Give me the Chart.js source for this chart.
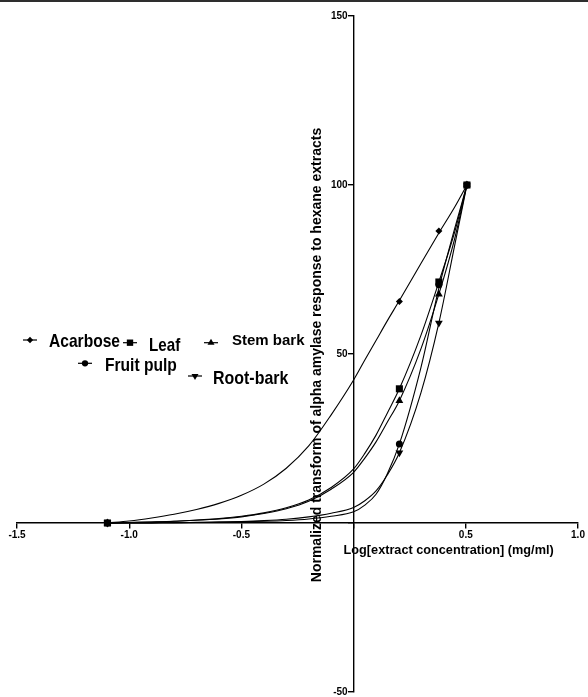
<!DOCTYPE html>
<html>
<head>
    <title>Alpha amylase response to hexane extracts</title>
    <script src="https://cdn.jsdelivr.net/npm/chart.js@4.4.0/dist/chart.umd.min.js"></script>
    <style>
        body { margin: 0; padding: 0; background: #fff; font-family: "Liberation Sans", Arial, sans-serif; }
        .chart-box { width: 588px; height: 697px; position: relative; }
    </style>
</head>
<body>
    <div class="chart-box"><canvas id="amylaseChart"></canvas></div>

    <script>
        // measured points (log concentration vs normalized response)
        const logConc = [-1.097, 0.204, 0.380, 0.505];
        const acarbose = [0, 65.5, 86.4, 100];
        const leaf = [0, 39.7, 71.3, 100];
        const stemBark = [0, 36.2, 67.7, 100];
        const fruitPulp = [0, 23.4, 70.5, 100];
        const rootBark = [0, 20.8, 59.2, 100];

        // fitted curves
        const curveX = [-1.097, -1.0, -0.9, -0.8, -0.7, -0.6, -0.5, -0.4, -0.3, -0.2, -0.1, 0, 0.05, 0.1, 0.15, 0.204, 0.3, 0.38, 0.45, 0.505];
        const acarboseCurve = [0, 0.6, 1.5, 2.6, 4.0, 5.8, 8.2, 11.5, 16.2, 22.8, 32, 42.3, 48.2, 54, 59.8, 65.8, 76.8, 85.8, 93.4, 100];
        const leafCurve = [0, 0.15, 0.3, 0.5, 0.9, 1.3, 2.0, 3.0, 4.5, 6.8, 10.5, 16, 20.6, 26, 32.5, 39.7, 55.5, 71.3, 86, 100];
        const stemBarkCurve = [0, 0.15, 0.3, 0.5, 0.8, 1.2, 1.8, 2.8, 4.2, 6.4, 10, 15, 19.2, 24, 29.8, 36.2, 51.5, 67.7, 84, 100];
        const fruitPulpCurve = [0, 0, 0.05, 0.1, 0.15, 0.25, 0.35, 0.5, 0.75, 1.2, 2.0, 3.3, 5.3, 8.5, 14.5, 23.4, 46, 69.5, 87, 100];
        const rootBarkCurve = [0, 0, 0.05, 0.1, 0.2, 0.3, 0.45, 0.7, 1.1, 1.8, 2.9, 4.6, 6.6, 9.5, 14.2, 20.8, 38.5, 59.2, 82, 100];

        const xTicks = [-1.5, -1.0, -0.5, 0, 0.5, 1.0];
        const yTicks = [-50, 0, 50, 100, 150];

        const series = [
            { label: 'Acarbose', pts: acarbose, curve: acarboseCurve, style: 'rectRot', radius: 3.5, rot: 0 },
            { label: 'Leaf', pts: leaf, curve: leafCurve, style: 'rect', radius: 5, rot: 0 },
            { label: 'Stem bark', pts: stemBark, curve: stemBarkCurve, style: 'triangle', radius: 4.5, rot: 0 },
            { label: 'Fruit pulp', pts: fruitPulp, curve: fruitPulpCurve, style: 'circle', radius: 3.5, rot: 0 },
            { label: 'Root-bark', pts: rootBark, curve: rootBarkCurve, style: 'triangle', radius: 4.5, rot: 180 }
        ];

        const datasets = [];
        series.forEach((s, i) => {
            datasets.push({
                label: s.label + ' points',
                data: logConc.map((x, j) => ({ x: x, y: s.pts[j] })),
                showLine: false,
                pointStyle: s.style,
                pointRotation: s.rot,
                pointRadius: s.radius,
                backgroundColor: '#000',
                borderColor: '#000',
                borderWidth: 0,
                order: s.label === 'Leaf' ? -1 : 0
            });
            datasets.push({
                label: s.label + ' fit',
                data: curveX.map((x, j) => ({ x: x, y: s.curve[j] })),
                showLine: true,
                pointRadius: 0,
                borderColor: '#000',
                borderWidth: 1.1,
                cubicInterpolationMode: 'monotone',
                fill: false,
                order: 1
            });
        });

        // legend placed like the original, plus axis titles
        const legendItems = [
            { i: 0, lx: 30, ly: 340, tx: 49, ty: 347, size: 19, sx: 0.82 },
            { i: 1, lx: 130, ly: 342.7, tx: 149, ty: 350.5, size: 19, sx: 0.8 },
            { i: 2, lx: 211, ly: 342.7, tx: 232, ty: 345, size: 15, sx: 1 },
            { i: 3, lx: 85, ly: 363.3, tx: 105, ty: 370.5, size: 19, sx: 0.82 },
            { i: 4, lx: 195, ly: 376, tx: 213, ty: 384, size: 19, sx: 0.84 }
        ];

        const FONT = '"Liberation Sans", Arial, sans-serif';

        const overlay = {
            id: 'overlay',
            beforeDraw(chart) {
                const ctx = chart.ctx;
                ctx.save();
                ctx.fillStyle = '#2e2e2e';
                ctx.fillRect(0, 0, chart.width, 2);
                ctx.restore();
            },
            afterDraw(chart) {
                const ctx = chart.ctx;
                const xs = chart.scales.x, ys = chart.scales.y;
                const x0 = xs.getPixelForValue(0), y0 = ys.getPixelForValue(0);
                ctx.save();
                ctx.fillStyle = '#000';
                ctx.strokeStyle = '#000';

                // y tick labels, left of the axis
                ctx.font = 'bold 10px ' + FONT;
                ctx.textAlign = 'right';
                ctx.textBaseline = 'middle';
                yTicks.forEach(v => {
                    if (v !== 0) ctx.fillText(String(v), x0 - 6, ys.getPixelForValue(v));
                });

                // y title
                ctx.save();
                ctx.translate(x0 - 36.5, ys.getPixelForValue(49.7));
                ctx.rotate(-Math.PI / 2);
                ctx.font = 'bold 14px ' + FONT;
                ctx.textAlign = 'center';
                ctx.textBaseline = 'middle';
                ctx.fillText('Normalized transform of alpha amylase response to hexane extracts', 0, 0);
                ctx.restore();

                // x title
                ctx.font = 'bold 12.7px ' + FONT;
                ctx.textAlign = 'left';
                ctx.textBaseline = 'middle';
                ctx.fillText('Log[extract concentration] (mg/ml)', x0 - 10, y0 + 27);

                // legend
                legendItems.forEach(it => {
                    const s = series[it.i];
                    ctx.lineWidth = 1.2;
                    ctx.beginPath();
                    ctx.moveTo(it.lx - 7, it.ly);
                    ctx.lineTo(it.lx + 7, it.ly);
                    ctx.stroke();
                    Chart.helpers.drawPoint(ctx, { pointStyle: s.style, rotation: s.rot, radius: s.radius * 0.9, borderWidth: 0 }, it.lx, it.ly);
                    ctx.save();
                    ctx.translate(it.tx, it.ty);
                    ctx.scale(it.sx, 1);
                    ctx.font = 'bold ' + it.size + 'px ' + FONT;
                    ctx.textAlign = 'left';
                    ctx.textBaseline = 'alphabetic';
                    ctx.fillText(s.label, 0, 0);
                    ctx.restore();
                });
                ctx.restore();
            }
        };

        const tickFont = { family: FONT, size: 10, weight: 'bold' };

        new Chart(document.getElementById('amylaseChart'), {
            type: 'scatter',
            data: { datasets: datasets },
            options: {
                responsive: true,
                maintainAspectRatio: false,
                animation: false,
                layout: { padding: { left: 17, right: 10, top: 16, bottom: 5 } },
                scales: {
                    x: {
                        type: 'linear',
                        min: xTicks[0],
                        max: xTicks[xTicks.length - 1],
                        position: { y: 0 },
                        afterBuildTicks: axis => { axis.ticks = xTicks.map(v => ({ value: v })); },
                        ticks: {
                            color: '#000',
                            font: tickFont,
                            padding: 1,
                            maxRotation: 0,
                            callback: v => v === 0 ? '' : v.toFixed(1)
                        },
                        grid: { drawOnChartArea: false, color: '#000', tickLength: 5, lineWidth: 1.4 },
                        border: { color: '#000', width: 1.4 }
                    },
                    y: {
                        type: 'linear',
                        min: yTicks[0],
                        max: yTicks[yTicks.length - 1],
                        position: { x: 0 },
                        afterBuildTicks: axis => { axis.ticks = yTicks.map(v => ({ value: v })); },
                        ticks: { display: false, font: tickFont },
                        grid: { drawOnChartArea: false, color: '#000', tickLength: 5, lineWidth: 1.4 },
                        border: { color: '#000', width: 1.4 }
                    }
                },
                plugins: {
                    legend: { display: false },
                    tooltip: { enabled: false },
                    title: { display: false }
                }
            },
            plugins: [overlay]
        });
    </script>
</body>
</html>
